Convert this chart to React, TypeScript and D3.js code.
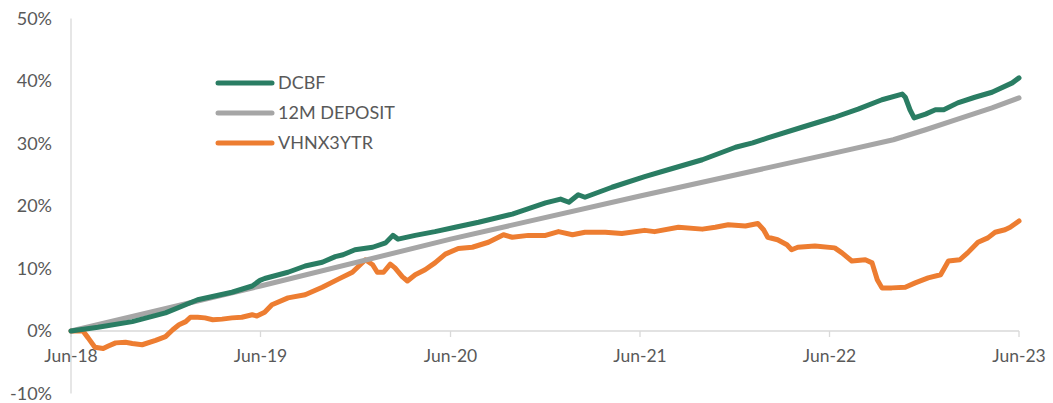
import React from "react";
import * as d3 from "d3";

const xTickLabels = ["Jun-18", "Jun-19", "Jun-20", "Jun-21", "Jun-22", "Jun-23"];
const xTickDates = ["2018-06-30", "2019-06-30", "2020-06-30", "2021-06-30", "2022-06-30", "2023-06-30"];
const yTicks = [-0.1, 0, 0.1, 0.2, 0.3, 0.4, 0.5];

const seriesNames = ["DCBF", "12M DEPOSIT", "VHNX3YTR"];

const dcbfDates = [
  "2018-06-30", "2018-08-21", "2018-10-26", "2018-12-29", "2019-03-01", "2019-05-06", "2019-06-14",
  "2019-06-29", "2019-07-08", "2019-08-22", "2019-09-24", "2019-10-27", "2019-11-21", "2019-12-06",
  "2019-12-29", "2020-02-01", "2020-02-26", "2020-03-11", "2020-03-21", "2020-04-23", "2020-05-31",
  "2020-07-09", "2020-08-23", "2020-10-27", "2020-12-30", "2021-01-28", "2021-02-13", "2021-03-03",
  "2021-03-16", "2021-05-07", "2021-07-09", "2021-08-23", "2021-10-28", "2021-12-31", "2022-02-02",
  "2022-03-03", "2022-05-08", "2022-07-10", "2022-08-24", "2022-10-09", "2022-11-17", "2022-11-23",
  "2022-12-02", "2022-12-10", "2023-01-01", "2023-01-20", "2023-02-05", "2023-03-04", "2023-04-06",
  "2023-05-09", "2023-06-17", "2023-06-30",
];
const dcbfValues = [
  0, 0.6, 1.5, 2.9, 5.0, 6.2, 7.2,
  8.1, 8.4, 9.4, 10.4, 11.0, 11.9, 12.2,
  13.0, 13.4, 14.1, 15.3, 14.7, 15.3, 15.9,
  16.6, 17.4, 18.7, 20.5, 21.1, 20.6, 21.8,
  21.4, 23.0, 24.7, 25.8, 27.4, 29.4, 30.1,
  30.9, 32.6, 34.2, 35.5, 37.0, 37.9, 37.4,
  35.4, 34.1, 34.7, 35.4, 35.4, 36.5, 37.4,
  38.2, 39.7, 40.5,
];

const depositDates = [
  "2018-06-30", "2019-06-30", "2020-06-30", "2021-06-30", "2022-06-30", "2022-10-31",
  "2023-01-01", "2023-03-04", "2023-05-09", "2023-06-30",
];
const depositValues = [0, 7.2, 14.7, 21.6, 28.3, 30.6, 32.2, 33.9, 35.7, 37.3];

const vhnxDates = [
  "2018-06-30", "2018-07-23", "2018-08-02", "2018-08-15", "2018-08-31", "2018-09-10", "2018-09-24",
  "2018-10-13", "2018-10-26", "2018-11-14", "2018-12-10", "2018-12-29", "2019-01-12", "2019-01-24",
  "2019-02-06", "2019-02-15", "2019-03-01", "2019-03-15", "2019-03-30", "2019-04-17", "2019-05-06",
  "2019-05-25", "2019-06-14", "2019-06-23", "2019-07-08", "2019-07-22", "2019-08-22", "2019-09-24",
  "2019-10-27", "2019-11-27", "2019-12-24", "2020-01-18", "2020-02-01", "2020-02-10", "2020-02-22",
  "2020-03-06", "2020-03-15", "2020-03-29", "2020-04-08", "2020-04-23", "2020-05-12", "2020-05-31",
  "2020-06-20", "2020-07-15", "2020-08-11", "2020-09-11", "2020-10-10", "2020-10-27", "2020-11-27",
  "2020-12-30", "2021-01-24", "2021-02-20", "2021-03-16", "2021-04-24", "2021-05-26", "2021-07-09",
  "2021-07-28", "2021-09-12", "2021-10-28", "2021-11-22", "2021-12-17", "2022-01-19", "2022-02-12",
  "2022-02-23", "2022-03-03", "2022-03-22", "2022-04-09", "2022-04-18", "2022-04-30", "2022-06-02",
  "2022-07-10", "2022-07-24", "2022-08-12", "2022-09-07", "2022-09-20", "2022-09-30", "2022-10-09",
  "2022-10-28", "2022-11-23", "2022-12-12", "2023-01-06", "2023-01-30", "2023-02-14", "2023-03-08",
  "2023-03-23", "2023-04-12", "2023-05-01", "2023-05-15", "2023-06-03", "2023-06-13", "2023-06-30",
];
const vhnxValues = [
  0, 0, -1.1, -2.6, -2.8, -2.4, -1.9,
  -1.8, -2.0, -2.2, -1.5, -0.9, 0.2, 1.0,
  1.5, 2.2, 2.2, 2.1, 1.8, 1.9, 2.1,
  2.2, 2.6, 2.4, 3.0, 4.2, 5.3, 5.8,
  7.0, 8.3, 9.4, 11.4, 10.6, 9.4, 9.4,
  10.7, 10.1, 8.7, 8.0, 9.0, 9.8, 10.9,
  12.3, 13.2, 13.4, 14.2, 15.4, 15.0, 15.3,
  15.3, 15.9, 15.4, 15.8, 15.8, 15.6, 16.1,
  15.9, 16.6, 16.3, 16.6, 17.0, 16.8, 17.2,
  16.2, 15.0, 14.6, 13.8, 13.0, 13.4, 13.6,
  13.3, 12.5, 11.2, 11.4, 10.9, 8.2, 6.9,
  6.9, 7.0, 7.7, 8.5, 9.0, 11.2, 11.4,
  12.5, 14.2, 14.9, 15.8, 16.2, 16.6, 17.6,
];

const colors = ["#2A7D63", "#A6A6A6", "#ED7D31"];

const parse = d3.timeParse("%Y-%m-%d");

const pct = (t: number) => `${Math.round(t * 100)}%`;

export default function App() {
  const width = 1053;
  const height = 403;
  const x = d3
    .scaleTime()
    .domain([parse(xTickDates[0])!, parse(xTickDates[xTickDates.length - 1])!])
    .range([71, 1019]);
  const y = d3.scaleLinear().domain([-0.1, 0.5]).range([393.5, 18.5]);

  const series = [
    { dates: dcbfDates, values: dcbfValues },
    { dates: depositDates, values: depositValues },
    { dates: vhnxDates, values: vhnxValues },
  ].map((s) => s.dates.map((d, i) => ({ date: parse(d)!, v: s.values[i] / 100 })));

  const line = d3
    .line<{ date: Date; v: number }>()
    .x((d) => x(d.date))
    .y((d) => y(d.v))
    .curve(d3.curveLinear);

  const font = "Lato, 'Open Sans', sans-serif";
  const textColor = "#595959";
  const axisColor = "#D9D9D9";
  const drawOrder = [2, 1, 0];

  return (
    <svg
      width={width}
      height={height}
      style={{ position: "absolute", left: 0, top: 0, background: "#fff" }}
      fontFamily={font}
    >
      <line x1={71} x2={71} y1={y(0.5)} y2={y(-0.1)} stroke={axisColor} strokeWidth={1.3} />
      <line x1={71} x2={1019} y1={y(0)} y2={y(0)} stroke={axisColor} strokeWidth={1.3} />
      {xTickDates.map((d, i) => (
        <g key={d}>
          <line
            x1={x(parse(d)!)}
            x2={x(parse(d)!)}
            y1={y(0)}
            y2={y(0) + 6}
            stroke={axisColor}
            strokeWidth={1.3}
          />
          <text
            x={x(parse(d)!)}
            y={y(0) + 31}
            textAnchor="middle"
            fontSize={17.5}
            fill={textColor}
          >
            {xTickLabels[i]}
          </text>
        </g>
      ))}
      {yTicks.map((t) => (
        <text
          key={t}
          x={52}
          y={y(t)}
          dy="0.35em"
          textAnchor="end"
          fontSize={18}
          fill={textColor}
        >
          {pct(t)}
        </text>
      ))}
      {drawOrder.map((i) => (
        <path
          key={i}
          d={line(series[i]) || ""}
          fill="none"
          stroke={colors[i]}
          strokeWidth={5}
          strokeLinejoin="round"
          strokeLinecap="round"
        />
      ))}
      {seriesNames.map((n, i) => (
        <g key={n} transform={`translate(218, ${83 + i * 30})`}>
          <line x1={0} x2={54} y1={0} y2={0} stroke={colors[i]} strokeWidth={5} strokeLinecap="round" />
          <text x={60} y={0} dy="0.35em" fontSize={18} fill={textColor}>
            {n}
          </text>
        </g>
      ))}
    </svg>
  );
}
